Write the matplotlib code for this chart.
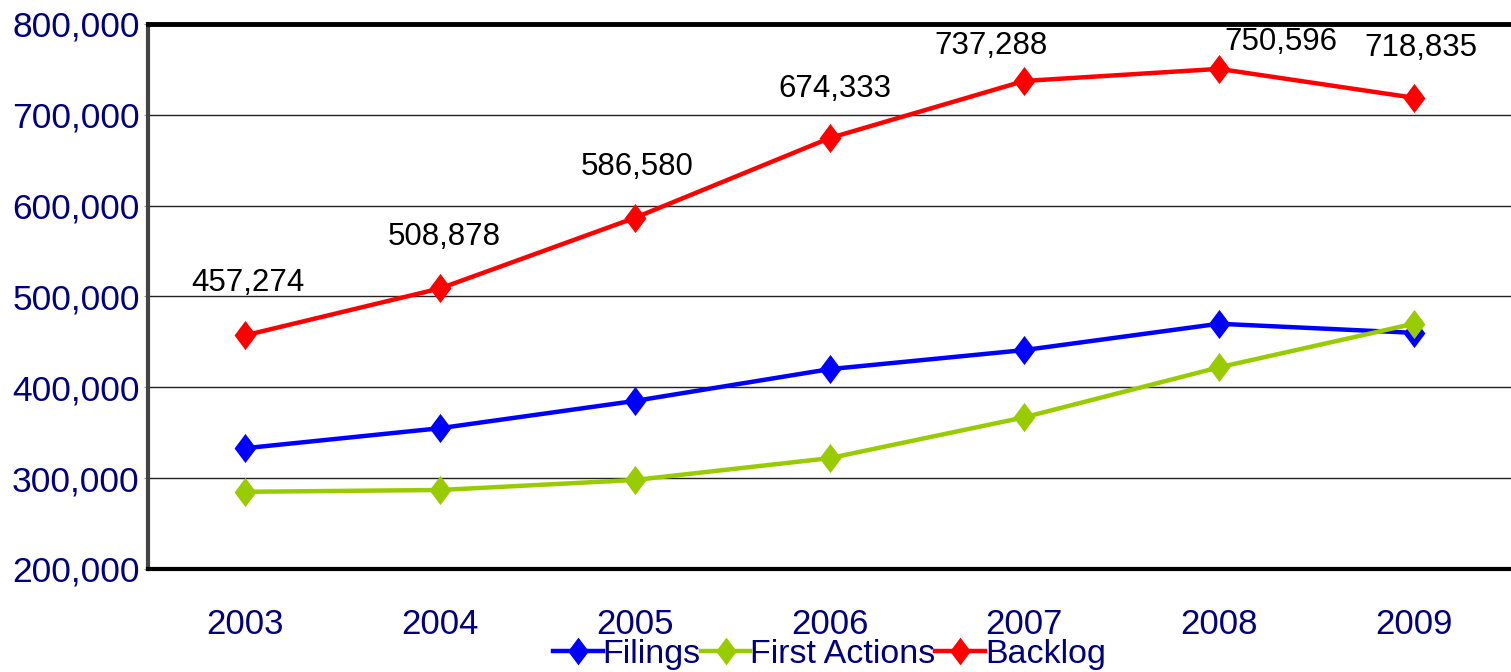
import matplotlib
matplotlib.use("Agg")
import matplotlib.pyplot as plt
from matplotlib.path import Path
from matplotlib.ticker import FuncFormatter, FixedLocator

plt.rcParams['font.family'] = ['Liberation Sans', 'DejaVu Sans']

years = ["2003", "2004", "2005", "2006", "2007", "2008", "2009"]
filings = [333000, 355000, 385000, 420000, 441000, 470000, 460000]
first_actions = [285000, 287000, 298000, 322000, 367000, 422000, 470000]
backlog = [457274, 508878, 586580, 674333, 737288, 750596, 718835]

# pixel offsets of the backlog value labels, nudged away from the frame
label_dx = [3, 4, 2, 5, -33, 62, 7]
label_dy = [52, 51, 51, 49, 35, 27, 50]

navy = "#000080"
diamond = Path([(0, 1), (0.75, 0), (0, -1), (-0.75, 0), (0, 1)],
               [Path.MOVETO, Path.LINETO, Path.LINETO, Path.LINETO, Path.CLOSEPOLY])

fig = plt.figure(figsize=(15.11, 6.72), dpi=100)
ax = fig.add_axes([148 / 1511, 1 - 569 / 672, 1 - 148 / 1511, 545 / 672])

x = range(len(years))
series = [(filings, "#0000FF", "Filings"),
          (first_actions, "#99CC00", "First Actions"),
          (backlog, "#FF0000", "Backlog")]
for vals, col, name in series:
    ax.plot(x, vals, color=col, lw=3.2, marker=diamond, markersize=21,
            markeredgewidth=0, label=name, zorder=3)

for i, v in enumerate(backlog):
    ax.annotate(f"{v:,}", (i, v), xytext=(label_dx[i], label_dy[i]),
                textcoords="offset pixels", ha="center", va="center",
                fontsize=22.5, color="black", annotation_clip=False)

ax.set_xlim(-0.5, len(years) - 0.5)
ax.set_ylim(200000, 800000)
ax.set_yticks(range(200000, 800001, 100000))
ax.yaxis.set_major_formatter(FuncFormatter(lambda v, p: f"{int(v):,}"))
ax.set_xticks(list(x))
ax.set_xticklabels(years)
ax.xaxis.set_minor_locator(FixedLocator([i + 0.5 for i in range(len(years) - 1)]))

ax.tick_params(axis="y", labelsize=25.5, labelcolor=navy, length=3, color="#999999", pad=3)
ax.tick_params(axis="x", which="major", labelsize=25, labelcolor=navy, length=0, pad=28)
ax.tick_params(axis="x", which="minor", direction="in", length=5, width=1.5, color="white")

ax.grid(axis="y", color="#222222", lw=1)
ax.set_axisbelow(True)

ax.spines["right"].set_visible(False)
ax.spines["top"].set_linewidth(3.5)
ax.spines["top"].set_color("black")
ax.spines["bottom"].set_linewidth(3)
ax.spines["bottom"].set_color("black")
ax.spines["left"].set_linewidth(3)
ax.spines["left"].set_color("#444444")

leg = ax.legend(loc="center", bbox_to_anchor=(0.5, -0.156), ncol=3, frameon=False,
                fontsize=24.5, handlelength=1.45, handletextpad=0.0, columnspacing=0.0,
                borderpad=0, markerscale=0.95)
for t in leg.get_texts():
    t.set_color(navy)

fig.savefig("out.png", dpi=100)
